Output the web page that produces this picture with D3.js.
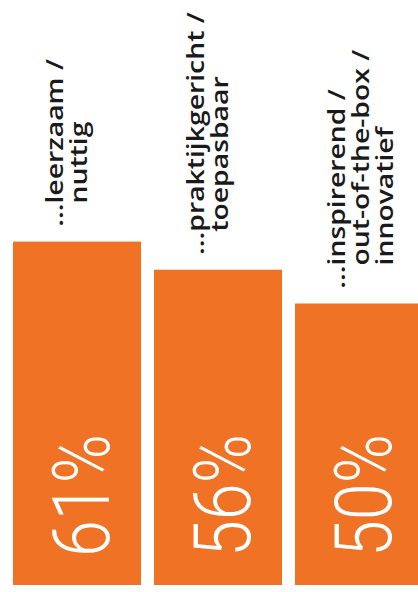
<!DOCTYPE html>
<html>
<head>
<meta charset="utf-8">
<script src="https://cdn.jsdelivr.net/npm/d3@7"></script>
<style>
  body { margin: 0; background: #fff; }
  svg { display: block; }
</style>
</head>
<body>
<script>
var w = 418;
var h = 592;

// data
var categories = ['leerzaam', 'praktijkgericht', 'inspirerend'];
var values = [61, 56, 50];
var labelLines = [
    ['...leerzaam /', 'nuttig'],
    ['...praktijkgericht /', 'toepasbaar'],
    ['...inspirerend /', 'out-of-the-box /', 'innovatief']
];

var orange = '#EF7225';

var x = d3.scaleBand().domain(categories).range([13, 423]).paddingInner(13 / 141);
var y = d3.scaleLinear().domain([0, 100]).range([585, 22]);

var svg = d3.select('body').append('svg').attr('width', w).attr('height', h);

// stretch text along its direction (the source image is drawn tall)
function stretch(sel, k) {
    sel.each(function() {
        var len = this.getComputedTextLength();
        d3.select(this).attr('textLength', len * k).attr('lengthAdjust', 'spacingAndGlyphs');
    });
}

// bars
svg.selectAll('rect.bar')
    .data(values).enter()
    .append('rect')
    .attr('class', 'bar')
    .attr('x', function(d, i) { return x(categories[i]); })
    .attr('y', function(d) { return y(d); })
    .attr('width', x.bandwidth())
    .attr('height', function(d) { return y(0) - y(d); })
    .attr('fill', orange);

// percentages, rotated inside bars
var pct = svg.selectAll('text.pct')
    .data(values).enter()
    .append('text')
    .attr('class', 'pct')
    .attr('transform', function(d, i) {
        return 'translate(' + (x(categories[i]) + x.bandwidth() / 2 + 32) + ',' + (y(0) - 28) + ') rotate(-90)';
    })
    .attr('font-family', 'Roboto, sans-serif')
    .attr('font-weight', 300)
    .attr('font-size', 80)
    .attr('fill', '#fff')
    .text(function(d) { return d + '%'; });
stretch(pct, 0.83);

// category labels above bars
var lineH = 24;
var k = 1.18;
var groups = svg.selectAll('g.lbl')
    .data(labelLines).enter()
    .append('g')
    .attr('class', 'lbl')
    .attr('transform', function(d, i) {
        return 'translate(' + x(categories[i]) + ',' + (y(values[i]) - 38) + ') rotate(-90)';
    });

groups.each(function(lines) {
    var g = d3.select(this);
    var t = g.append('text')
        .attr('font-family', '"Open Sans", sans-serif')
        .attr('font-weight', 600)
        .attr('font-size', 24)
        .attr('fill', '#1a1a1a');
    var dots = t.append('tspan').text('...');
    var ell = dots.node().getComputedTextLength() * k;
    dots.remove();
    lines.forEach(function(line, j) {
        var ts = t.append('tspan')
            .attr('x', j === 0 ? -ell : 0)
            .attr('y', 50 + j * lineH)
            .text(line);
        stretch(ts, k);
    });
});
</script>
</body>
</html>
